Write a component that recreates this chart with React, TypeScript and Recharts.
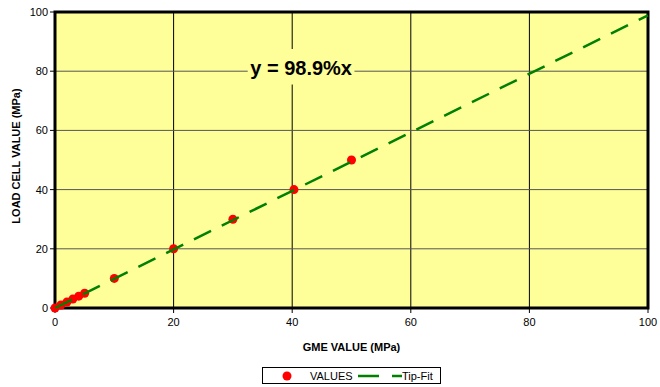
import { ComposedChart, Scatter, XAxis, YAxis, CartesianGrid, ReferenceArea } from 'recharts';

const gmeValues = [0, 1, 2, 3, 4, 5, 10, 20, 30, 40.3, 50];
const loadCellValues = [0, 1, 2, 3, 4, 5, 10, 20, 30, 40, 50];
const fitX = [0, 100];
const fitY = [0, 98.9];
const ticks = [0, 20, 40, 60, 80, 100];
const equationLabel = 'y = 98.9%x';

const points = gmeValues.map((x, i) => ({ x, y: loadCellValues[i] }));
const fitLine = fitX.map((x, i) => ({ x, y: fitY[i] }));

const font = '"Liberation Sans", Arial, sans-serif';

const YLabel = ({ viewBox }: any) => {
  const cy = viewBox.y + viewBox.height / 2 - 4;
  return (
    <text x={16} y={cy} transform={`rotate(-90, 16, ${cy})`} textAnchor="middle" dominantBaseline="central"
      fontFamily={font} fontSize={11} fontWeight="bold" fill="#000">
      LOAD CELL VALUE (MPa)
    </text>
  );
};

const XLabel = ({ viewBox }: any) => (
  <text x={viewBox.x + viewBox.width / 2} y={347} textAnchor="middle" dominantBaseline="central"
    fontFamily={font} fontSize={11} fontWeight="bold" fill="#000">
    GME VALUE (MPa)
  </text>
);

const EquationLabel = ({ viewBox }: any) => (
  <text x={viewBox.x + viewBox.width / 2} y={viewBox.y + viewBox.height / 2 + 1} textAnchor="middle"
    dominantBaseline="central" fontFamily={font} fontSize={20} fontWeight="bold" fill="#000">
    {equationLabel}
  </text>
);

const App = () => {
  const tickStyle = { fontFamily: font, fontSize: 11, fill: '#000' };
  return (
    <div style={{ position: 'absolute', left: 0, top: 0, width: 660, height: 387, background: '#fff' }}>
      <ComposedChart width={660} height={387} margin={{ top: 12, right: 12, bottom: 49, left: 0 }}>
        <CartesianGrid horizontal={false} stroke="#000" fill="#FFFF99" fillOpacity={1} />
        <CartesianGrid vertical={false} stroke="#555" />
        <XAxis type="number" dataKey="x" domain={[0, 100]} ticks={ticks}
          height={30} tick={tickStyle} tickMargin={5} tickSize={5} stroke="#000" label={<XLabel />} />
        <YAxis type="number" dataKey="y" domain={[0, 100]} ticks={ticks} width={55}
          tick={tickStyle} tickSize={5} stroke="#000" label={<YLabel />} />
        <ReferenceArea x1={32.5} x2={50.5} y1={75.5} y2={87.5} fill="#FFFF99" fillOpacity={1} stroke="none"
          label={<EquationLabel />} />
        <ReferenceArea x1={0} x2={100} y1={0} y2={100} fill="none" stroke="#000" strokeWidth={3} ifOverflow="visible" />
        <Scatter name="VALUES" data={points} dataKey="y" fill="#FF0000" isAnimationActive={false}
          shape={(p: any) => <circle cx={p.cx} cy={p.cy} r={4.5} fill="#FF0000" />} />
        <Scatter name="Tip-Fit" data={fitLine} dataKey="y" isAnimationActive={false}
          line={{ stroke: '#008000', strokeWidth: 2.5, strokeDasharray: '19 12' }}
          shape={() => <g />} />
      </ComposedChart>
      <div style={{ position: 'absolute', left: 262, top: 367, width: 179, height: 17, border: '1px solid #000',
        background: '#fff', boxSizing: 'border-box' }}>
        <svg width={179} height={17} style={{ position: 'absolute', left: -1, top: -1 }}>
          <circle cx={25} cy={9} r={4.5} fill="#FF0000" />
          <text x={48} y={9} dominantBaseline="central" fontFamily={font} fontSize={11} fill="#000">VALUES</text>
          <line x1={96} y1={9} x2={117} y2={9} stroke="#008000" strokeWidth={2.5} />
          <line x1={130} y1={9} x2={140} y2={9} stroke="#008000" strokeWidth={2.5} />
          <text x={140} y={9} dominantBaseline="central" fontFamily={font} fontSize={11} fill="#000">Tip-Fit</text>
        </svg>
      </div>
    </div>
  );
};

export default App;
